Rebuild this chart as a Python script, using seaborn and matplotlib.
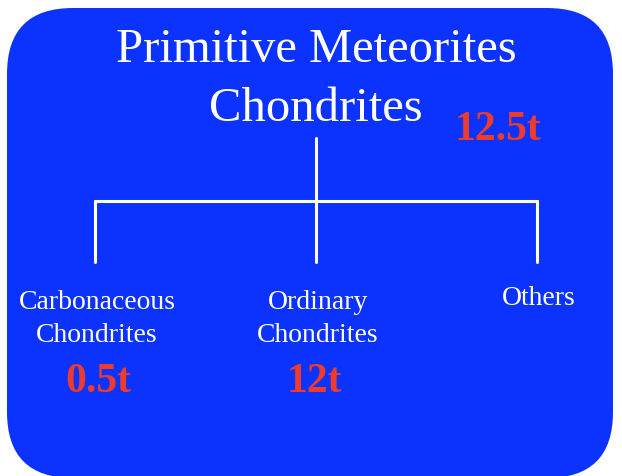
import pandas as pd
import seaborn as sns
import matplotlib.pyplot as plt
from matplotlib.patches import FancyBboxPatch

# tree data
root_lines = ["Primitive Meteorites", "Chondrites"]
root_mass = "12.5t"
children = ["Carbonaceous\nChondrites", "Ordinary\nChondrites", "Others"]
child_mass = ["0.5t", "12t", ""]

BLUE = "#0c32fe"
RED = "#ee3b2b"
SERIF = "Liberation Serif"


def draw_tree():
    sns.set_style("white")
    fig = plt.figure(figsize=(6.22, 4.76), dpi=100)
    ax = fig.add_axes([0, 0, 1, 1])

    # rounded blue panel
    box = FancyBboxPatch((7, 8), 606, 470, boxstyle="round,pad=0,rounding_size=66",
                         facecolor=BLUE, edgecolor="none", zorder=0)
    ax.add_patch(box)

    # layout
    root_x = 316
    child_x = [95 + 221 * i for i in range(len(children))]
    bar_y, stem_top, leg_bottom = 201, 138, 262

    # connector segments as a long table for seaborn
    segs = [(root_x, stem_top, 0), (root_x, bar_y, 0),
            (child_x[0], bar_y, 1), (child_x[-1], bar_y, 1)]
    for i, cx in enumerate(child_x):
        segs += [(cx, bar_y, 2 + i), (cx, leg_bottom, 2 + i)]
    df = pd.DataFrame(segs, columns=["x", "y", "seg"])
    sns.lineplot(data=df, x="x", y="y", units="seg", estimator=None, sort=False,
                 color="white", linewidth=2.2, ax=ax)
    ax.set_xlim(0, 622)
    ax.set_ylim(476, 0)
    ax.axis("off")

    # root labels
    ax.text(root_x, 62, root_lines[0], ha="center", va="baseline",
            fontsize=35, color="white", family=SERIF)
    ax.text(root_x, 121, root_lines[1], ha="center", va="baseline",
            fontsize=35, color="white", family=SERIF)
    ax.text(498, 140, root_mass, ha="center", va="baseline",
            fontsize=30, color=RED, family=SERIF, fontweight="bold")

    # children labels
    label_y = [309, 309, 305]
    mass_dx = [3, -2, 0]
    for cx, name, mass, ly, dx in zip(child_x, children, child_mass, label_y, mass_dx):
        lines = name.split("\n")
        for k, line in enumerate(lines):
            ax.text(cx + 2, ly + 33 * k, line, ha="center", va="baseline",
                    fontsize=20, color="white", family=SERIF)
        if mass:
            ax.text(cx + dx, 392, mass, ha="center", va="baseline",
                    fontsize=30, color=RED, family=SERIF, fontweight="bold")

    plt.savefig("out.png", dpi=100)


if __name__ == "__main__":
    draw_tree()
